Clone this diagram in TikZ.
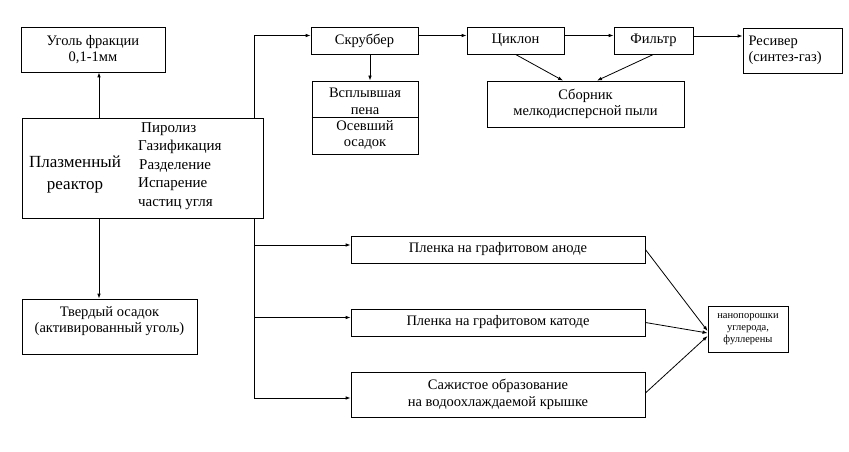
\documentclass[tikz,border=0pt]{standalone}
\usepackage{fontspec}
\setmainfont{Liberation Serif}
\usetikzlibrary{arrows.meta,calc}
\begin{document}
\begin{tikzpicture}[x=1pt,y=-1pt,
  box/.style={draw,line width=0.8pt,inner sep=0pt,align=center,font=\fontsize{14.5}{16.5}\selectfont},
  txt/.style={inner sep=0pt,align=center,font=\fontsize{14.5}{16.5}\selectfont},
  ln/.style={line width=0.8pt},
  arr/.style={line width=0.8pt,-{Latex[length=5pt,width=3.6pt]}}]
\useasboundingbox[fill=white] (0,0) rectangle (849,452);
% left column
\node[box,minimum width=144,minimum height=45] (ugol) at (93,49.5) {Уголь фракции\\0,1-1мм};
\node[box,minimum width=241,minimum height=100] (reactor) at (142.5,168) {};
\node[txt,font=\fontsize{17}{22}\selectfont] (plasma) at (75,174) {Плазменный\\реактор};
\node[txt,align=left,anchor=north west,font=\fontsize{15}{18.5}\selectfont] (procs) at (138,122) {\hspace*{3pt}Пиролиз\\Газификация\\\hspace*{1pt}Разделение\\Испарение\\частиц угля};
\node[box,minimum width=175,minimum height=55] (tverd) at (109.5,326.5) {};
\node[txt] (tverdtxt) at (109.5,321) {Твердый осадок\\(активированный уголь)};
% top chain
\node[box,minimum width=107,minimum height=27] (skrub) at (364.5,40.5) {Скруббер};
\node[box,minimum width=97,minimum height=27] (cyclone) at (515.5,40.5) {Циклон};
\node[box,minimum width=79,minimum height=27] (filter) at (653.5,40.5) {Фильтр};
\node[box,minimum width=99,minimum height=45,align=left,text width=88] (resiver) at (792.5,50.5) {Ресивер\\(синтез-газ)};
\node[box,minimum width=106,minimum height=73] (pena) at (365,117.5) {};
\node[txt] (penatop) at (365,101.5) {Всплывшая\\пена};
\node[txt] (penabot) at (365,135) {Осевший\\осадок};
\node[box,minimum width=197,minimum height=46] (sbornik) at (585.5,104) {Сборник\\мелкодисперсной пыли};
% bottom branch
\node[box,minimum width=294,minimum height=27] (anode) at (498,249.5) {Пленка на графитовом аноде};
\node[box,minimum width=294,minimum height=27] (cathode) at (498,322.5) {Пленка на графитовом катоде};
\node[box,minimum width=294,minimum height=45] (sazh) at (498,394.5) {Сажистое образование\\на водоохлаждаемой крышке};
\node[box,minimum width=80,minimum height=46,font=\fontsize{10.5}{12}\selectfont] (nano) at (748,329) {нанопорошки\\углерода,\\фуллерены};
% connectors
\draw[ln] (pena.west) -- (pena.east);
\draw[arr] ([xshift=6pt]ugol.south |- reactor.north) -- ([xshift=6pt]ugol.south);
\draw[arr] ([xshift=-10.5pt]tverd.north |- reactor.south) -- ([xshift=-10.5pt]tverd.north);
\coordinate (trtop) at ([xshift=-9pt]reactor.north east);
\coordinate (trbot) at ([xshift=-9pt]reactor.south east);
\coordinate (aw) at ([yshift=4.5pt]anode.west);
\coordinate (cw) at ([yshift=5pt]cathode.west);
\coordinate (sw) at ([yshift=-3.5pt]sazh.west);
\draw[arr] (trtop) |- ([yshift=5pt]skrub.west);
\draw[ln] (trbot) -- (trbot |- sw);
\draw[arr] (trbot |- aw) -- (aw);
\draw[arr] (trbot |- cw) -- (cw);
\draw[arr] (trbot |- sw) -- (sw);
\draw[arr] ([yshift=5pt]skrub.east) -- ([yshift=5pt]cyclone.west);
\draw[arr] ([yshift=5pt]cyclone.east) -- ([yshift=5pt]filter.west);
\coordinate (fe) at ([yshift=4.5pt]filter.east);
\draw[arr] (fe) -- (fe -| resiver.west);
\coordinate (ss) at ([xshift=5.5pt]skrub.south);
\draw[arr] (ss) -- (ss |- pena.north);
\draw[arr] (cyclone.south) -- ([xshift=-22.5pt]sbornik.north);
\draw[arr] (filter.south) -- ([xshift=11.5pt]sbornik.north);
\draw[arr] (anode.east) -- ([yshift=-2pt]nano.west);
\draw[arr] (cathode.east) -- ([yshift=-4pt]nano.west);
\draw[arr] ([yshift=1.5pt]sazh.east) -- ([yshift=-7pt]nano.west);
\end{tikzpicture}
\end{document}
